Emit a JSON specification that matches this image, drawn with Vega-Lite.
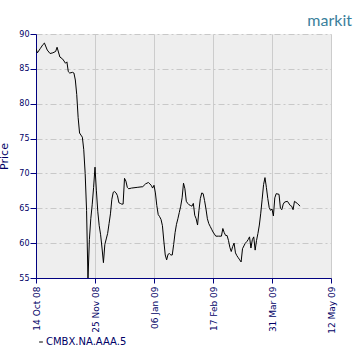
{
  "$schema": "https://vega.github.io/schema/vega-lite/v6.json",
  "width": 295,
  "height": 244,
  "autosize": {"type": "none"},
  "padding": {"left": 36, "top": 34, "right": 29, "bottom": 82},
  "background": "white",
  "title": {
    "text": "markit",
    "anchor": "end",
    "frame": "group",
    "font": "Lato",
    "fontSize": 16,
    "fontWeight": "normal",
    "color": "#3a7f9c",
    "baseline": "alphabetic",
    "offset": 9,
    "dx": 21,
    "dy": 21
  },
  "config": {
    "view": {"fill": "#eeeeee", "stroke": null},
    "axis": {
      "domainColor": "#000080",
      "tickColor": "#000080",
      "labelColor": "#000066",
      "titleColor": "#000066",
      "labelFont": "DejaVu Sans",
      "titleFont": "DejaVu Sans"
    }
  },
  "data": {
    "values": [
      {"date": "2008/10/14", "price": 87.9},
      {"date": "2008/10/15", "price": 87.3},
      {"date": "2008/10/17", "price": 87.9},
      {"date": "2008/10/19", "price": 88.5},
      {"date": "2008/10/20", "price": 88.7},
      {"date": "2008/10/22", "price": 87.7},
      {"date": "2008/10/24", "price": 87.2},
      {"date": "2008/10/26", "price": 87.3},
      {"date": "2008/10/28", "price": 87.5},
      {"date": "2008/10/29", "price": 88.1},
      {"date": "2008/10/31", "price": 86.7},
      {"date": "2008/11/02", "price": 86.4},
      {"date": "2008/11/04", "price": 85.8},
      {"date": "2008/11/05", "price": 86.0},
      {"date": "2008/11/06", "price": 84.6},
      {"date": "2008/11/07", "price": 84.4},
      {"date": "2008/11/09", "price": 84.5},
      {"date": "2008/11/10", "price": 84.4},
      {"date": "2008/11/11", "price": 83.4},
      {"date": "2008/11/12", "price": 81.3},
      {"date": "2008/11/13", "price": 78.0},
      {"date": "2008/11/14", "price": 75.8},
      {"date": "2008/11/15", "price": 75.5},
      {"date": "2008/11/16", "price": 75.2},
      {"date": "2008/11/17", "price": 73.4},
      {"date": "2008/11/18", "price": 70.0},
      {"date": "2008/11/19", "price": 64.7},
      {"date": "2008/11/20", "price": 54.8},
      {"date": "2008/11/21", "price": 60.5},
      {"date": "2008/11/22", "price": 63.5},
      {"date": "2008/11/23", "price": 65.5},
      {"date": "2008/11/24", "price": 68.0},
      {"date": "2008/11/25", "price": 70.9},
      {"date": "2008/11/26", "price": 67.5},
      {"date": "2008/11/27", "price": 64.5},
      {"date": "2008/11/28", "price": 62.5},
      {"date": "2008/11/29", "price": 61.2},
      {"date": "2008/11/30", "price": 59.3},
      {"date": "2008/12/01", "price": 57.2},
      {"date": "2008/12/02", "price": 59.8},
      {"date": "2008/12/03", "price": 60.6},
      {"date": "2008/12/04", "price": 61.4},
      {"date": "2008/12/05", "price": 62.8},
      {"date": "2008/12/06", "price": 64.2},
      {"date": "2008/12/07", "price": 66.3},
      {"date": "2008/12/08", "price": 67.3},
      {"date": "2008/12/09", "price": 67.4},
      {"date": "2008/12/10", "price": 67.2},
      {"date": "2008/12/11", "price": 66.8},
      {"date": "2008/12/12", "price": 65.8},
      {"date": "2008/12/13", "price": 65.7},
      {"date": "2008/12/14", "price": 65.6},
      {"date": "2008/12/15", "price": 65.6},
      {"date": "2008/12/16", "price": 69.3},
      {"date": "2008/12/17", "price": 68.9},
      {"date": "2008/12/18", "price": 68.0},
      {"date": "2008/12/19", "price": 67.8},
      {"date": "2008/12/21", "price": 67.9},
      {"date": "2008/12/25", "price": 68.0},
      {"date": "2008/12/29", "price": 68.1},
      {"date": "2008/12/31", "price": 68.5},
      {"date": "2009/01/02", "price": 68.7},
      {"date": "2009/01/04", "price": 68.3},
      {"date": "2009/01/05", "price": 67.9},
      {"date": "2009/01/06", "price": 68.3},
      {"date": "2009/01/07", "price": 67.2},
      {"date": "2009/01/08", "price": 65.4},
      {"date": "2009/01/09", "price": 64.1},
      {"date": "2009/01/10", "price": 63.8},
      {"date": "2009/01/11", "price": 63.4},
      {"date": "2009/01/12", "price": 62.5},
      {"date": "2009/01/13", "price": 60.3},
      {"date": "2009/01/14", "price": 58.3},
      {"date": "2009/01/15", "price": 57.6},
      {"date": "2009/01/16", "price": 58.4},
      {"date": "2009/01/17", "price": 58.5},
      {"date": "2009/01/18", "price": 58.3},
      {"date": "2009/01/19", "price": 58.3},
      {"date": "2009/01/20", "price": 59.8},
      {"date": "2009/01/21", "price": 61.5},
      {"date": "2009/01/22", "price": 62.7},
      {"date": "2009/01/23", "price": 63.5},
      {"date": "2009/01/24", "price": 64.4},
      {"date": "2009/01/25", "price": 65.3},
      {"date": "2009/01/26", "price": 66.5},
      {"date": "2009/01/27", "price": 68.6},
      {"date": "2009/01/28", "price": 67.8},
      {"date": "2009/01/29", "price": 66.0},
      {"date": "2009/01/30", "price": 65.7},
      {"date": "2009/01/31", "price": 65.5},
      {"date": "2009/02/01", "price": 65.4},
      {"date": "2009/02/02", "price": 65.3},
      {"date": "2009/02/03", "price": 65.7},
      {"date": "2009/02/04", "price": 64.0},
      {"date": "2009/02/05", "price": 63.5},
      {"date": "2009/02/06", "price": 62.6},
      {"date": "2009/02/07", "price": 64.7},
      {"date": "2009/02/08", "price": 66.4},
      {"date": "2009/02/09", "price": 67.2},
      {"date": "2009/02/10", "price": 67.1},
      {"date": "2009/02/11", "price": 66.1},
      {"date": "2009/02/12", "price": 64.9},
      {"date": "2009/02/13", "price": 63.5},
      {"date": "2009/02/14", "price": 62.8},
      {"date": "2009/02/15", "price": 62.4},
      {"date": "2009/02/16", "price": 62.0},
      {"date": "2009/02/17", "price": 61.6},
      {"date": "2009/02/18", "price": 61.3},
      {"date": "2009/02/19", "price": 61.0},
      {"date": "2009/02/21", "price": 61.0},
      {"date": "2009/02/23", "price": 61.0},
      {"date": "2009/02/24", "price": 62.1},
      {"date": "2009/02/25", "price": 61.5},
      {"date": "2009/02/26", "price": 61.1},
      {"date": "2009/02/27", "price": 61.1},
      {"date": "2009/02/28", "price": 60.4},
      {"date": "2009/03/01", "price": 59.4},
      {"date": "2009/03/02", "price": 58.8},
      {"date": "2009/03/03", "price": 59.5},
      {"date": "2009/03/04", "price": 60.0},
      {"date": "2009/03/05", "price": 58.6},
      {"date": "2009/03/06", "price": 58.2},
      {"date": "2009/03/07", "price": 57.9},
      {"date": "2009/03/08", "price": 57.6},
      {"date": "2009/03/09", "price": 57.3},
      {"date": "2009/03/10", "price": 59.2},
      {"date": "2009/03/11", "price": 59.6},
      {"date": "2009/03/12", "price": 60.0},
      {"date": "2009/03/13", "price": 60.2},
      {"date": "2009/03/14", "price": 60.5},
      {"date": "2009/03/15", "price": 60.9},
      {"date": "2009/03/16", "price": 59.3},
      {"date": "2009/03/17", "price": 60.5},
      {"date": "2009/03/18", "price": 60.9},
      {"date": "2009/03/19", "price": 59.0},
      {"date": "2009/03/20", "price": 60.4},
      {"date": "2009/03/21", "price": 61.4},
      {"date": "2009/03/22", "price": 62.6},
      {"date": "2009/03/23", "price": 64.3},
      {"date": "2009/03/24", "price": 66.3},
      {"date": "2009/03/25", "price": 68.4},
      {"date": "2009/03/26", "price": 69.4},
      {"date": "2009/03/27", "price": 68.0},
      {"date": "2009/03/28", "price": 66.4},
      {"date": "2009/03/29", "price": 65.1},
      {"date": "2009/03/30", "price": 64.7},
      {"date": "2009/03/31", "price": 64.9},
      {"date": "2009/04/01", "price": 63.9},
      {"date": "2009/04/02", "price": 66.5},
      {"date": "2009/04/03", "price": 67.1},
      {"date": "2009/04/05", "price": 67.0},
      {"date": "2009/04/06", "price": 65.0},
      {"date": "2009/04/07", "price": 64.8},
      {"date": "2009/04/08", "price": 65.6},
      {"date": "2009/04/09", "price": 65.9},
      {"date": "2009/04/11", "price": 66.0},
      {"date": "2009/04/13", "price": 65.4},
      {"date": "2009/04/14", "price": 65.3},
      {"date": "2009/04/15", "price": 64.8},
      {"date": "2009/04/16", "price": 66.0},
      {"date": "2009/04/18", "price": 65.7},
      {"date": "2009/04/20", "price": 65.3}
    ]
  },
  "mark": {"type": "line", "strokeWidth": 1, "clip": true, "interpolate": "linear"},
  "encoding": {
    "x": {
      "field": "date",
      "type": "temporal",
      "scale": {
        "domain": [
          {"year": 2008, "month": 10, "date": 14},
          {"year": 2009, "month": 5, "date": 12}
        ]
      },
      "axis": {
        "title": null,
        "values": [
          {"year": 2008, "month": 10, "date": 14},
          {"year": 2008, "month": 11, "date": 25},
          {"year": 2009, "month": 1, "date": 6},
          {"year": 2009, "month": 2, "date": 17},
          {"year": 2009, "month": 3, "date": 31},
          {"year": 2009, "month": 5, "date": 12}
        ],
        "format": "%d %b %y",
        "labelAngle": -90,
        "labelFontSize": 9,
        "labelPadding": 3,
        "tickSize": 5,
        "labelOverlap": false,
        "labelFlush": false,
        "grid": true,
        "gridColor": "#cccccc",
        "gridWidth": 1,
        "gridOpacity": 1
      }
    },
    "y": {
      "field": "price",
      "type": "quantitative",
      "scale": {"domain": [55, 90], "nice": false, "zero": false},
      "axis": {
        "title": "Price",
        "titleFontSize": 11,
        "titleFontWeight": "normal",
        "titleBaseline": "alphabetic",
        "titleX": -29,
        "titleY": 122,
        "values": [55, 60, 65, 70, 75, 80, 85, 90],
        "labelFontSize": 8,
        "labelPadding": 1,
        "tickSize": 6,
        "grid": true,
        "gridColor": "#c8c8c8",
        "gridDash": [6, 3, 2, 3],
        "gridOpacity": 1
      }
    },
    "color": {
      "datum": "CMBX.NA.AAA.5",
      "scale": {"range": ["black"]},
      "legend": {
        "title": null,
        "orient": "none",
        "legendX": 0,
        "legendY": 303,
        "symbolType": "stroke",
        "symbolSize": 14,
        "symbolStrokeWidth": 1,
        "labelFont": "DejaVu Sans",
        "labelFontSize": 10,
        "labelColor": "#000066",
        "labelOffset": 0,
        "padding": 0
      }
    }
  }
}
